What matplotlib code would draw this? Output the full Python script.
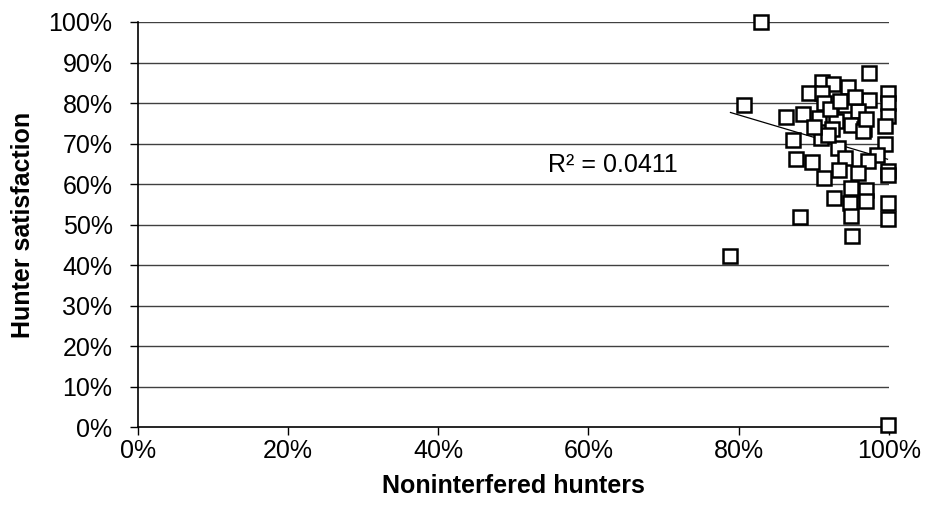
import numpy as np
import matplotlib
matplotlib.use("Agg")
import matplotlib.pyplot as plt
import matplotlib.ticker as ticker

# Valores (porcentajes)
noninterfered = [83.0, 78.9, 99.8, 80.7, 97.3, 91.1, 92.5, 94.6, 89.4, 99.8,
                 91.1, 99.8, 97.3, 94.1, 91.4, 95.9, 99.8, 86.3, 88.5, 90.7,
                 93.0, 94.9, 96.7, 99.4, 87.2, 91.0, 92.4, 93.2, 99.4, 98.4,
                 87.6, 89.8, 94.2, 97.2, 93.4, 95.9, 99.8, 99.8, 91.4, 95.0,
                 97.0, 92.7, 94.8, 97.0, 99.8, 88.2, 95.0, 99.8, 95.1, 96.6,
                 91.9, 92.2, 93.5, 95.5, 97.0, 90.0]
satisfaction = [100.0, 42.2, 0.5, 79.6, 87.3, 85.1, 84.6, 84.0, 82.5, 82.5,
                82.5, 80.0, 80.7, 79.6, 80.0, 78.0, 76.9, 76.6, 77.2, 76.3,
                75.5, 74.7, 73.5, 74.3, 71.0, 71.4, 73.5, 68.9, 69.8, 67.3,
                66.3, 65.5, 66.5, 65.8, 63.6, 62.8, 63.2, 62.3, 61.5, 59.1,
                58.6, 56.6, 55.4, 55.8, 55.4, 52.0, 52.2, 51.4, 47.1, 73.0,
                72.2, 78.5, 80.5, 81.5, 76.0, 74.0]
r2_label = "R² = 0.0411"

plt.rcParams['font.family'] = ['Liberation Sans', 'DejaVu Sans']

x = np.array(noninterfered) / 100
y = np.array(satisfaction) / 100

fig = plt.figure(figsize=(9.28, 5.21), dpi=100)
ax = fig.add_axes([0.1483, 0.1795, 0.958 - 0.1483, 0.9578 - 0.1795])

# Líneas horizontales de la cuadrícula
for v in np.arange(0.1, 1.01, 0.1):
    ax.axhline(v, color='#404040', linewidth=1.0, zorder=1)

# Línea de tendencia lineal
coef = np.polyfit(x, y, 1)
xs = np.array([x.min(), x.max()])
ax.plot(xs, np.polyval(coef, xs), color='black', linewidth=0.9, zorder=2)

ax.plot(x, y, linestyle='none', marker='s', markersize=10,
        markerfacecolor='white', markeredgecolor='black', markeredgewidth=1.8,
        zorder=3, clip_on=False)

ax.text(0.632, 0.648, r2_label, ha='center', va='center', fontsize=18)

ax.set_xlim(0, 1)
ax.set_ylim(0, 1)
ax.xaxis.set_major_locator(ticker.MultipleLocator(0.2))
ax.yaxis.set_major_locator(ticker.MultipleLocator(0.1))
ax.xaxis.set_major_formatter(ticker.FuncFormatter(lambda v, p: f"{v * 100:.0f}%"))
ax.yaxis.set_major_formatter(ticker.FuncFormatter(lambda v, p: f"{v * 100:.0f}%"))
ax.tick_params(axis='both', direction='out', length=6, width=1, labelsize=18, color='black')
ax.tick_params(axis='x', pad=2)
ax.tick_params(axis='y', pad=12)

for s in ['top', 'right']:
    ax.spines[s].set_visible(False)
for s in ['left', 'bottom']:
    ax.spines[s].set_linewidth(1.2)

ax.set_xlabel('Noninterfered hunters', fontsize=18, fontweight='bold', labelpad=8)
ax.set_ylabel('Hunter satisfaction', fontsize=18, fontweight='bold', labelpad=10)

fig.savefig('out.png', dpi=100)
